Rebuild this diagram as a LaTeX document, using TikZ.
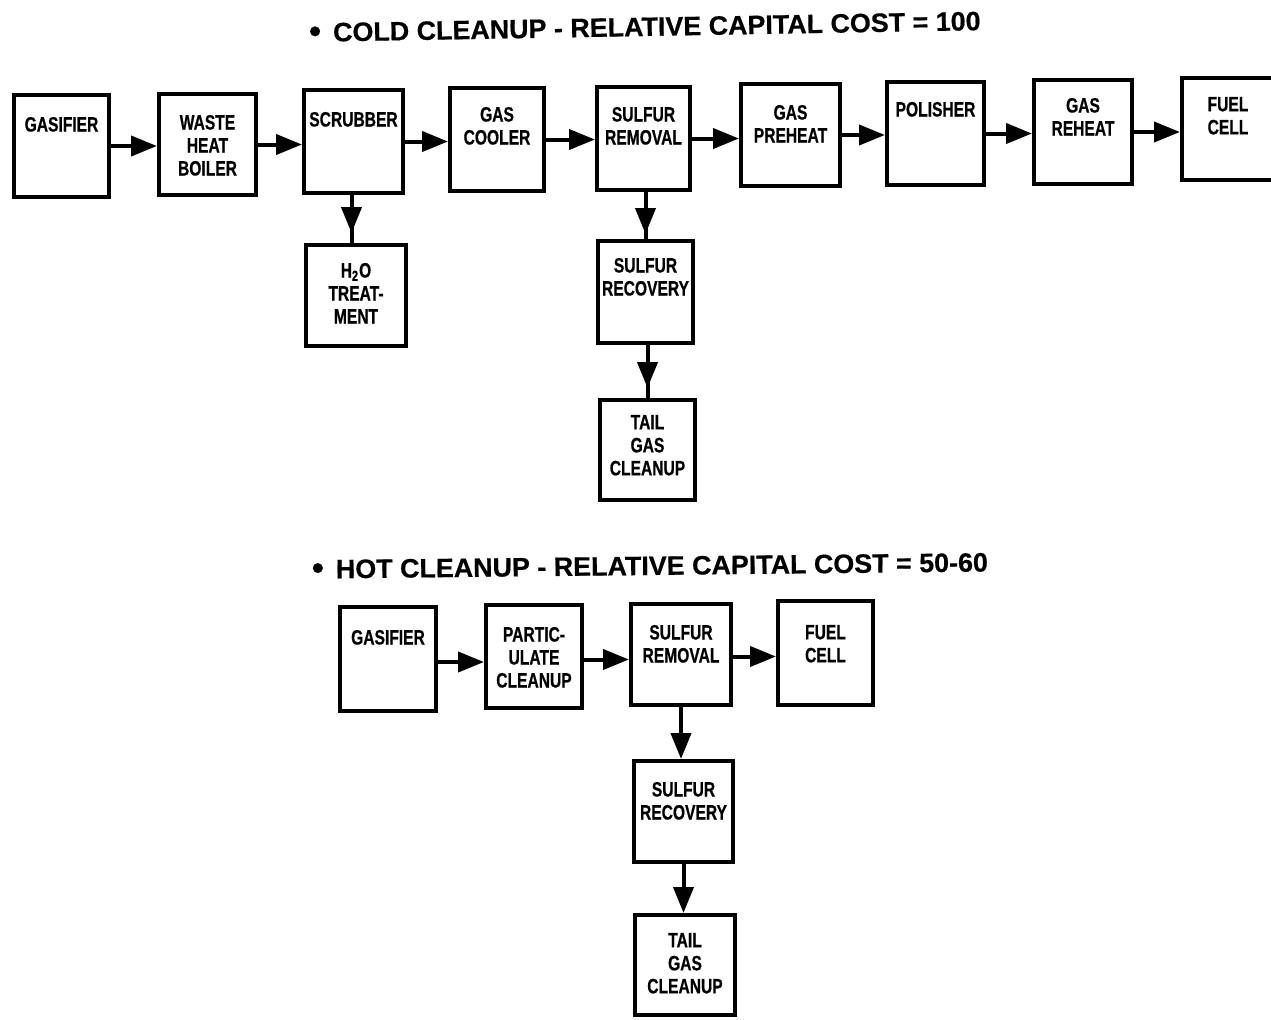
\documentclass[tikz,border=0pt]{standalone}
\usepackage{fontspec}
\newfontfamily\boxfont[FakeStretch=0.75,FakeBold=0.6]{Liberation Sans}
\newfontfamily\ttlfont[FakeStretch=1.01,FakeBold=0.5]{Liberation Sans}
\usetikzlibrary{arrows.meta}
\newcommand\bt[4]{\parbox[c][#2][t]{#1}{\centering\vspace*{#3}#4}}
\newcommand\bigbul{\raisebox{-0.4pt}{\fontsize{17pt}{17pt}\selectfont •}}
\begin{document}
\begin{tikzpicture}[x=0.5pt,y=-0.5pt,
  box/.style={draw, line width=2pt, inner sep=0pt, fill=white,
    font=\boxfont\bfseries\fontsize{10.4pt}{11.5pt}\selectfont},
  ttl/.style={inner sep=0pt, anchor=base,
    font=\ttlfont\bfseries\fontsize{13.3pt}{15pt}\selectfont},
  conn/.style={line width=2pt},
  arr/.style={conn, -{Triangle[length=13pt,width=10pt]}},
]
\useasboundingbox (0,0) rectangle (1271,1019);
\clip (0,0) rectangle (1271,1019);

% titles
\node[ttl, rotate=1.0] (t1) at (645,36) {\bigbul\hspace{6pt}COLD CLEANUP - RELATIVE CAPITAL COST = 100};
\node[ttl, rotate=0.6] (t2) at (650,575) {\bigbul\hspace{6pt}HOT CLEANUP - RELATIVE CAPITAL COST = 50-60};

% cold cleanup
\node[box] (g1)  at (61.5,146)   {\bt{47.5pt}{51pt}{11pt}{GASIFIER}};
\node[box] (whb) at (207.5,144.5){\bt{48.5pt}{50.5pt}{10.5pt}{WASTE\\HEAT\\BOILER}};
\node[box] (scr) at (353.5,141.5){\bt{49.5pt}{51.5pt}{11pt}{SCRUBBER}};
\node[box] (gc)  at (497,139.5)  {\bt{47pt}{51.5pt}{9.5pt}{GAS\\COOLER}};
\node[box] (sr1) at (643.5,138.5){\bt{46.5pt}{51.5pt}{10pt}{SULFUR\\REMOVAL}};
\node[box] (gp)  at (790.5,135)  {\bt{49.5pt}{51pt}{10.5pt}{GAS\\PREHEAT}};
\node[box] (pol) at (935.5,133.5){\bt{48.5pt}{51.5pt}{10pt}{POLISHER}};
\node[box] (gr)  at (1083,132)   {\bt{49pt}{52pt}{9pt}{GAS\\REHEAT}};
\node[box] (fc1) at (1228,129)   {\bt{46pt}{51pt}{9.5pt}{FUEL\\CELL}};
\node[box] (h2o) at (356,295.5)  {\bt{50pt}{50.5pt}{9pt}{H\textsubscript{2}O\\TREAT-\\MENT}};
\node[box] (rc1) at (645.5,292)  {\bt{47.5pt}{51pt}{8.5pt}{SULFUR\\RECOVERY}};
\node[box] (tg1) at (647.5,450)  {\bt{47.5pt}{50pt}{7.5pt}{TAIL\\GAS\\CLEANUP}};

\draw[arr] (g1.east)  -- (g1.east -| whb.west);
\draw[arr] (whb.east) -- (whb.east -| scr.west);
\draw[arr] (scr.east) -- (scr.east -| gc.west);
\draw[arr] (gc.east)  -- (gc.east -| sr1.west);
\draw[arr] (sr1.east) -- (sr1.east -| gp.west);
\draw[arr] (gp.east)  -- (gp.east -| pol.west);
\draw[arr] (pol.east) -- (pol.east -| gr.west);
\draw[arr] (gr.east)  -- (gr.east -| fc1.west);

\draw[conn] ([xshift=-1pt]scr.south) -- ([xshift=-1pt]scr.south |- h2o.north);
\draw[arr, shorten >=5pt] ([xshift=-1pt]scr.south) -- ([xshift=-1pt]scr.south |- h2o.north);
\draw[conn] ([xshift=1pt]sr1.south) -- ([xshift=1pt]sr1.south |- rc1.north);
\draw[arr, shorten >=2.5pt] ([xshift=1pt]sr1.south) -- ([xshift=1pt]sr1.south |- rc1.north);
\draw[conn] ([xshift=1pt]rc1.south) -- ([xshift=1pt]rc1.south |- tg1.north);
\draw[arr, shorten >=5pt] ([xshift=1pt]rc1.south) -- ([xshift=1pt]rc1.south |- tg1.north);

% hot cleanup
\node[box] (g2)  at (388,659)    {\bt{48pt}{52pt}{11.5pt}{GASIFIER}};
\node[box] (pc)  at (534,656.5)  {\bt{48pt}{51.5pt}{11pt}{PARTIC-\\ULATE\\CLEANUP}};
\node[box] (sr2) at (681,654.5)  {\bt{50pt}{50.5pt}{10.5pt}{SULFUR\\REMOVAL}};
\node[box] (fc2) at (825.5,653)  {\bt{47.5pt}{52pt}{12pt}{FUEL\\CELL}};
\node[box] (rc2) at (683.5,811.5){\bt{49.5pt}{50.5pt}{10.5pt}{SULFUR\\RECOVERY}};
\node[box] (tg2) at (685,965)    {\bt{50pt}{50pt}{9pt}{TAIL\\GAS\\CLEANUP}};

\draw[arr] ([yshift=-1.5pt]g2.east) -- ([yshift=-1.5pt]g2.east -| pc.west);
\draw[arr] ([yshift=-1.5pt]pc.east) -- ([yshift=-1.5pt]pc.east -| sr2.west);
\draw[arr] ([yshift=-1pt]sr2.east) -- ([yshift=-1pt]sr2.east -| fc2.west);
\draw[arr] (sr2.south) -- (sr2.south |- rc2.north);
\draw[arr] (rc2.south) -- (rc2.south |- tg2.north);
\end{tikzpicture}
\end{document}
